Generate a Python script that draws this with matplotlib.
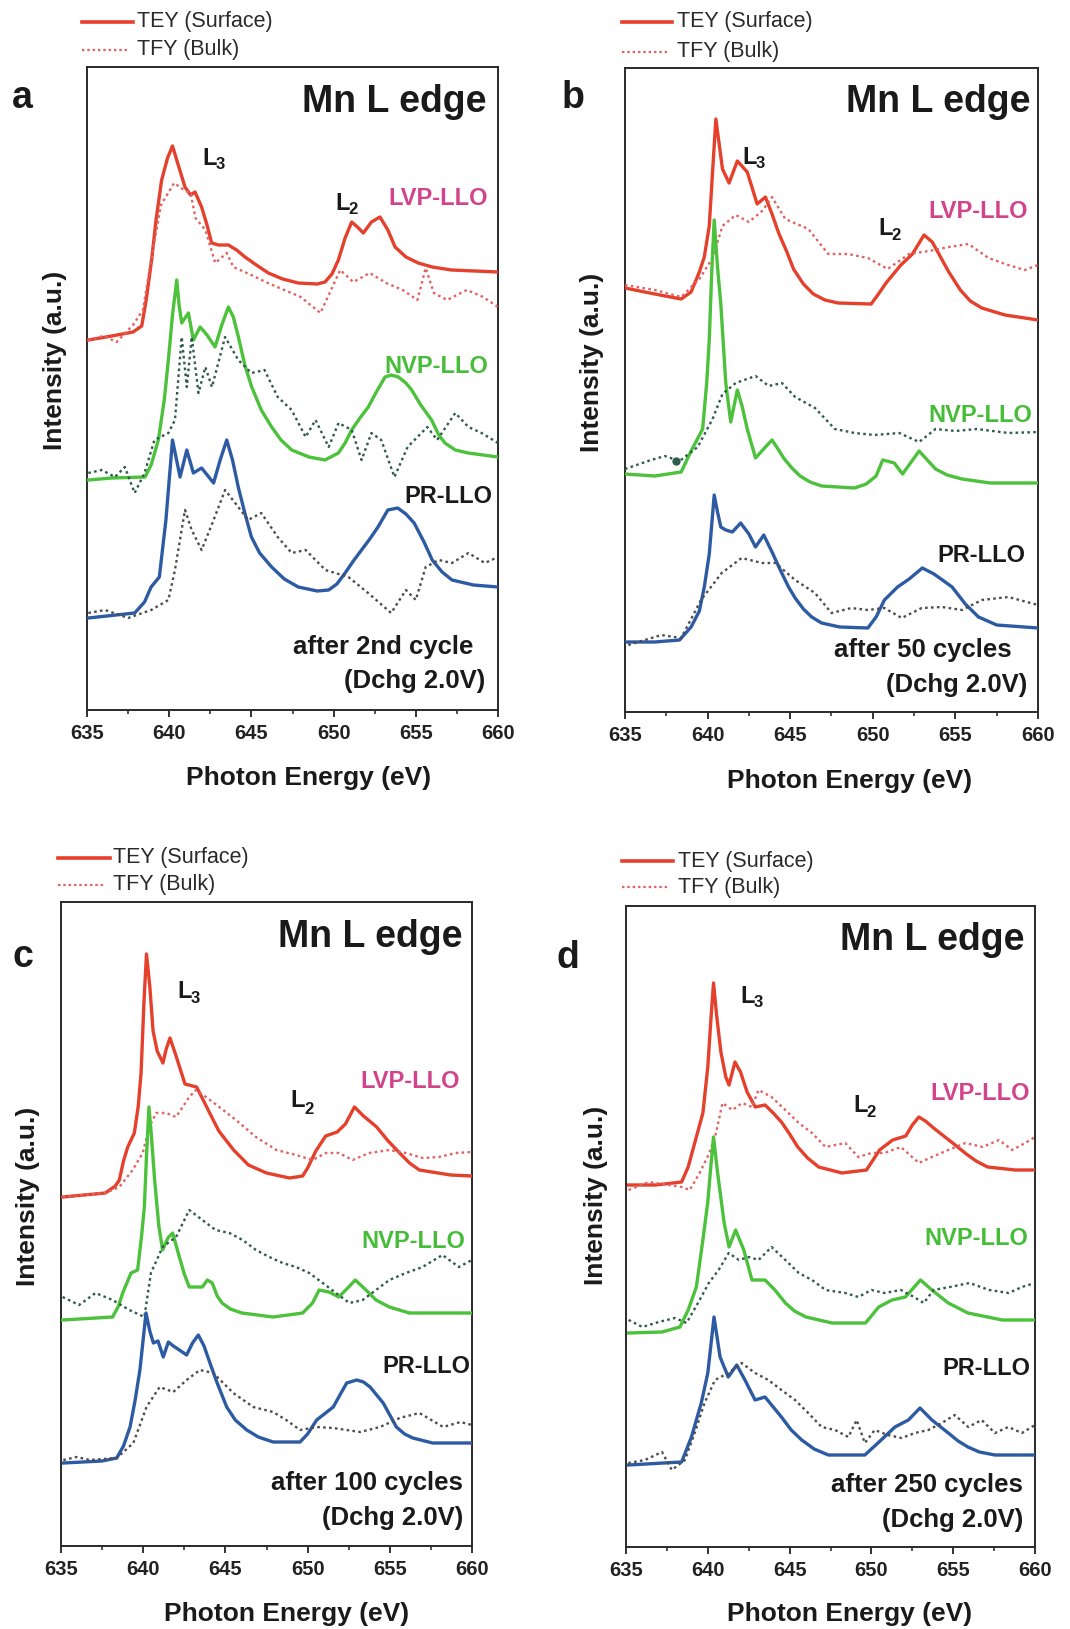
import numpy as np
import matplotlib
matplotlib.use("Agg")
import matplotlib.pyplot as plt
from matplotlib.lines import Line2D
from matplotlib.ticker import MultipleLocator

plt.rcParams['font.family'] = ['Liberation Sans', 'DejaVu Sans']

# ---------------- data: (photon energy eV, intensity a.u.) ----------------
# panel a : after 2nd cycle
a_lvp_tey = [(635.08,370),(636.5,374),(637.8,378),(638.33,384),(638.6,410),(638.93,450),(639.2,490),(639.54,530),(639.9,552),(640.2,564),(640.55,545),(640.96,523),(641.3,515),(641.57,518),(641.97,503),(642.3,485),(642.58,467),(643.0,465),(643.6,465),(644.1,460),(644.61,453),(645.3,445),(646.03,437),(646.9,431),(647.85,427),(649.0,426),(649.48,428),(649.9,436),(650.29,450),(650.7,472),(651.1,488),(651.45,483),(651.81,477),(652.3,488),(652.82,493),(653.3,480),(653.74,463),(654.4,453),(655.15,447),(656.0,443),(657.18,440),(660,438)]
a_lvp_tfy = [(635.08,370),(636.0,374),(636.8,368),(637.8,385),(638.4,400),(638.9,450),(639.5,505),(640.3,527),(640.9,520),(641.3,517),(641.6,492),(642.2,480),(642.8,447),(643.5,457),(643.9,443),(645.0,435),(646.0,427),(648.0,413),(649.2,397),(650.4,440),(651.2,428),(652.2,437),(653.2,427),(654.2,420),(655.1,410),(655.6,442),(656.1,417),(656.9,410),(658.1,420),(659.1,413),(660,403)]
a_nvp_tey = [(635.08,230),(636.5,232),(638.53,233),(638.9,245),(639.34,270),(639.7,310),(639.95,350),(640.2,395),(640.46,430),(640.6,405),(640.76,387),(641.17,397),(641.47,370),(641.88,383),(642.3,375),(642.79,363),(643.2,385),(643.6,403),(643.9,393),(644.21,373),(644.6,345),(645.02,323),(645.6,300),(646.23,283),(646.8,270),(647.45,260),(648.5,253),(649.48,250),(650.29,257),(650.7,267),(651.1,280),(651.6,292),(652.11,303),(652.6,318),(653.13,333),(653.5,335),(653.94,333),(654.4,327),(654.75,320),(655.3,305),(655.96,290),(656.4,275),(656.77,267),(657.4,260),(658.19,257),(660,253)]
a_nvp_tfy = [(635.08,237),(635.9,240),(636.7,233),(637.3,243),(637.9,217),(638.5,237),(639.1,270),(639.95,277),(640.35,290),(640.76,373),(641.07,323),(641.37,373),(641.78,317),(642.2,343),(642.6,323),(643.4,373),(644.2,350),(645.0,337),(645.8,340),(646.6,313),(647.45,300),(648.3,273),(648.9,290),(649.7,263),(650.3,287),(651.1,280),(651.7,250),(652.3,277),(652.9,270),(653.7,233),(654.5,263),(655.7,283),(656.3,270),(657.4,297),(658.2,283),(659.0,277),(660,267)]
a_pr_tey = [(635.08,92),(637.9,97),(638.5,108),(638.9,123),(639.4,133),(639.8,190),(640.2,270),(640.66,233),(641.07,260),(641.47,237),(641.97,242),(642.7,227),(643.1,250),(643.5,270),(643.85,250),(644.2,223),(644.6,197),(645.0,173),(645.5,157),(646.23,143),(647.0,131),(647.85,123),(649.0,119),(649.7,120),(650.2,126),(650.7,137),(651.2,149),(651.7,160),(652.2,171),(652.7,183),(653.3,200),(653.9,202),(654.4,196),(654.9,187),(655.5,168),(656.0,150),(656.6,138),(657.2,130),(658.5,125),(660,123)]
a_pr_tfy = [(635.08,97),(636.1,100),(637.5,92),(638.9,100),(639.95,110),(640.35,140),(640.96,200),(641.37,180),(641.97,160),(642.7,190),(643.4,220),(644.2,203),(644.8,190),(645.6,197),(646.6,173),(647.45,157),(648.3,160),(649.5,140),(650.9,133),(652.1,117),(653.5,97),(654.4,120),(655.0,110),(655.6,143),(656.4,150),(657.2,147),(658.2,157),(659.2,147),(660,153)]

# panel b : after 50 cycles
b_lvp_tey = [(635.0,424),(636.8,418),(638.4,413),(639.0,420),(639.5,440),(639.8,455),(640.1,486),(640.3,540),(640.5,593),(640.7,568),(640.9,543),(641.3,529),(641.8,551),(642.4,540),(643.0,508),(643.5,515),(643.9,498),(644.3,479),(644.8,460),(645.2,443),(645.8,428),(646.4,418),(647.1,412),(647.9,409),(649.9,408),(650.3,417),(650.8,429),(651.7,447),(652.4,458),(653.1,477),(653.6,470),(654.0,458),(654.6,440),(655.3,422),(655.9,411),(656.6,404),(658.0,397),(660,392)]
b_lvp_tfy = [(635.0,427),(636.8,422),(638.4,415),(639.5,433),(640.3,454),(640.9,486),(641.7,497),(642.5,490),(643.3,501),(643.9,515),(644.7,493),(646.1,483),(647.3,458),(648.5,458),(649.7,454),(650.9,443),(652.2,458),(653.4,461),(654.6,465),(655.8,468),(657.0,454),(658.2,447),(659.2,442),(660,447)]
b_nvp_tey = [(635.0,238),(636.8,236),(638.4,240),(639.0,261),(639.7,283),(639.95,330),(640.1,372),(640.25,440),(640.4,492),(640.6,445),(640.8,408),(641.1,329),(641.4,290),(641.8,322),(642.1,305),(642.4,283),(642.9,254),(643.5,265),(643.9,272),(644.3,262),(644.6,254),(645.1,244),(645.6,236),(646.2,230),(646.9,226),(648.9,224),(649.6,228),(650.2,236),(650.6,252),(651.3,249),(651.8,238),(652.5,254),(652.8,261),(653.3,252),(653.8,243),(654.5,237),(655.4,233),(657.1,229),(660,229)]
b_nvp_tfy = [(635.0,243),(636.4,251),(637.4,256),(638.3,251),(639.4,265),(640.3,293),(640.9,318),(641.7,329),(642.9,336),(643.7,326),(644.5,329),(645.3,315),(646.5,304),(647.7,283),(648.9,279),(650.1,277),(651.6,279),(652.8,270),(653.8,283),(655.0,281),(656.3,283),(658.2,279),(660,280)]
b_nvp_dot = [(638.1,251)]
b_pr_tey = [(635.0,70),(636.8,70),(638.3,72),(639.0,85),(639.5,101),(639.8,125),(640.1,158),(640.4,217),(640.6,200),(640.8,185),(641.1,182),(641.5,180),(642.0,189),(642.5,178),(642.9,165),(643.4,177),(643.9,160),(644.4,142),(644.9,125),(645.3,114),(645.8,103),(646.3,95),(646.9,89),(648.0,85),(649.7,84),(650.2,95),(650.7,112),(651.5,125),(652.2,133),(653.0,144),(653.7,138),(654.3,131),(654.8,125),(655.6,108),(656.4,95),(657.5,87),(660,84)]
b_pr_tfy = [(635.2,67),(637.2,77),(638.4,74),(639.6,112),(640.85,139),(642.06,154),(643.3,149),(644.1,149),(645.3,132),(646.5,119),(647.5,99),(648.7,104),(649.7,102),(650.7,104),(651.75,94),(652.96,104),(654.2,105),(655.4,102),(656.6,112),(658.2,115),(660,107)]

# panel c : after 100 cycles
c_lvp_tey = [(635.1,349),(637.7,353),(638.3,360),(638.55,366),(638.8,385),(639.06,399),(639.46,413),(639.7,440),(639.87,473),(640.05,545),(640.2,592),(640.4,560),(640.6,515),(640.85,495),(641.2,483),(641.4,497),(641.63,508),(642.0,490),(642.54,462),(643.25,459),(643.86,439),(644.6,415),(645.5,396),(646.4,381),(647.5,373),(648.9,368),(649.7,370),(650.0,378),(650.5,395),(651.1,410),(651.8,414),(652.3,422),(652.85,439),(653.4,430),(654.2,419),(654.9,405),(655.6,393),(656.2,383),(656.8,376),(658.7,371),(660,370)]
c_lvp_tfy = [(635.1,349),(637.7,353),(638.55,359),(639.36,376),(639.97,393),(640.37,419),(640.78,433),(641.39,433),(642.0,429),(642.8,449),(643.2,456),(643.82,449),(644.63,439),(645.64,426),(646.86,409),(648.1,396),(649.3,391),(650.3,386),(651.1,393),(651.9,393),(652.74,386),(653.75,393),(654.97,396),(655.98,393),(656.99,388),(658.0,389),(659.0,393),(660,394)]
c_nvp_tey = [(635.1,226),(638.14,229),(638.5,240),(638.75,253),(639.26,273),(639.66,276),(639.9,310),(640.07,339),(640.2,390),(640.35,439),(640.5,410),(640.7,365),(640.95,320),(641.18,296),(641.5,308),(641.79,313),(642.2,289),(642.5,272),(642.8,259),(643.6,259),(643.9,266),(644.2,263),(644.5,250),(644.8,243),(645.3,237),(646.0,233),(647.9,229),(649.7,233),(650.3,243),(650.7,256),(651.3,254),(651.9,249),(652.5,259),(652.9,266),(653.55,256),(654.16,246),(654.97,239),(656.19,233),(660,233)]
c_nvp_tfy = [(635.1,249),(636.1,241),(637.1,253),(638.14,246),(639.16,236),(640.07,229),(640.47,273),(641.18,299),(642.0,309),(642.8,336),(643.6,326),(644.4,316),(645.24,313),(646.05,306),(646.86,296),(647.67,289),(648.48,283),(649.29,279),(650.1,273),(650.92,263),(651.73,253),(652.54,243),(653.35,246),(654.16,256),(654.97,266),(655.98,273),(656.99,279),(658.2,291),(659.2,279),(660,286)]
c_pr_tey = [(635.14,83),(637.5,85),(638.39,88),(638.8,100),(639.2,119),(639.5,145),(639.8,176),(640.17,233),(640.4,215),(640.62,203),(640.9,205),(641.22,189),(641.53,204),(641.83,200),(642.2,196),(642.64,191),(643.0,203),(643.35,211),(643.7,200),(644.06,183),(644.5,163),(645.08,139),(645.6,126),(646.3,116),(647.0,109),(647.9,104),(649.54,104),(650.0,112),(650.55,126),(651.56,139),(652.0,152),(652.38,163),(652.99,166),(653.4,164),(653.8,159),(654.6,143),(655.0,131),(655.4,119),(655.9,112),(656.4,108),(657.6,103),(660,103)]
c_pr_tfy = [(635.14,86),(635.95,89),(636.76,86),(638.39,88),(639.4,103),(640.2,139),(641.0,159),(641.83,154),(642.64,166),(643.45,176),(644.26,173),(645.48,153),(646.7,139),(647.9,134),(648.7,126),(649.54,116),(650.55,119),(651.56,118),(653.2,114),(654.4,119),(655.6,128),(656.8,133),(658.25,119),(659.3,124),(660,121)]

# panel d : after 250 cycles
d_lvp_tey = [(635.16,362),(636.8,362),(638.4,365),(638.8,380),(639.2,404),(639.7,434),(640.0,480),(640.2,530),(640.35,564),(640.55,530),(640.8,495),(641.1,470),(641.3,462),(641.66,485),(642.0,475),(642.4,455),(642.9,440),(643.5,442),(644.0,434),(644.5,425),(645.0,413),(645.5,400),(646.1,389),(646.78,380),(648.2,374),(649.7,377),(650.1,387),(650.5,397),(651.3,407),(652.1,411),(652.5,422),(652.9,430),(653.3,426),(653.8,419),(654.5,410),(655.2,401),(655.8,393),(656.4,386),(657.1,380),(658.8,377),(660,377)]
d_lvp_tfy = [(635.16,357),(636.4,365),(637.6,362),(638.4,360),(638.9,357),(639.5,374),(640.1,394),(640.5,414),(640.9,444),(641.5,437),(642.1,444),(642.7,440),(643.1,457),(643.9,450),(644.74,437),(645.56,424),(646.37,414),(647.2,400),(648.4,404),(649.2,390),(650.0,394),(650.8,394),(651.8,400),(652.9,384),(653.7,390),(654.7,397),(655.75,404),(656.8,400),(657.8,407),(658.6,397),(659.4,404),(660,410)]
d_nvp_tey = [(635.16,214),(637.2,215),(638.3,220),(638.8,237),(639.3,260),(639.7,307),(640.0,345),(640.15,374),(640.35,410),(640.6,374),(641.0,324),(641.3,300),(641.7,317),(642.2,297),(642.7,267),(643.5,267),(644.1,257),(644.74,244),(645.3,236),(646.0,230),(647.6,224),(649.64,224),(650.45,240),(651.26,247),(652.08,250),(653.0,267),(653.7,257),(654.7,244),(655.9,234),(658.0,227),(660,227)]
d_nvp_tfy = [(635.16,227),(636.0,220),(637.0,225),(638.0,229),(638.7,224),(639.4,244),(640.06,264),(640.66,277),(641.28,294),(641.9,287),(642.5,290),(643.1,287),(643.9,300),(644.74,287),(645.56,274),(646.37,267),(647.2,257),(648.4,254),(649.2,250),(650.0,257),(650.8,254),(651.8,257),(652.6,250),(653.2,244),(653.8,257),(654.8,260),(656.0,264),(657.2,257),(658.4,254),(659.2,260),(660,264)]
d_pr_tey = [(635.14,82),(638.4,85),(639.0,110),(639.6,144),(640.0,174),(640.38,230),(640.75,190),(641.25,170),(641.77,182),(642.27,167),(642.89,147),(643.5,150),(644.5,130),(645.1,117),(645.74,107),(646.5,98),(647.37,92),(649.6,92),(650.4,104),(651.44,120),(652.26,127),(652.97,139),(653.7,127),(654.7,114),(655.3,106),(655.9,100),(656.6,95),(657.55,92),(660,92)]
d_pr_tfy = [(635.14,84),(636.16,87),(637.2,95),(637.8,77),(638.6,87),(639.2,114),(639.8,144),(640.44,167),(641.25,174),(642.07,184),(642.89,174),(643.7,167),(644.5,157),(645.33,147),(646.14,134),(646.96,120),(647.78,117),(648.59,110),(649.1,127),(649.6,104),(650.2,117),(651.0,112),(651.85,109),(652.66,114),(653.48,117),(654.3,124),(655.1,132),(655.92,120),(656.74,127),(657.55,114),(658.37,120),(659.2,114),(660,122)]

samples = ["LVP-LLO", "NVP-LLO", "PR-LLO"]
cycle_texts = ["after 2nd cycle", "after 50 cycles", "after 100 cycles", "after 250 cycles"]
panel_letters = ["a", "b", "c", "d"]
xticks = [635, 640, 645, 650, 655, 660]

# ---------------- styling ----------------
W, H = 1070, 1629
RED = '#e5402c'
RED_DOT = '#e06363'
GREEN = '#4cc13b'
GREEN_DOT = '#2e5b4d'
BLUE = '#2d5ba3'
GRAY_DOT = '#4d4d4d'
LBL_COLORS = ['#d2438c', '#46bd38', '#1a1a1a']
TXT = '#1a1a1a'

fig = plt.figure(figsize=(W / 100, H / 100), dpi=100)
fig.patch.set_facecolor('white')


def fp(x, y):
    return x / W, 1 - y / H


def arr(pts):
    a = np.array(pts, dtype=float)
    return a[:, 0], a[:, 1]


panels = [
    dict(box=(87, 67, 498, 710),
         curves=[a_lvp_tey, a_lvp_tfy, a_nvp_tey, a_nvp_tfy, a_pr_tey, a_pr_tfy], dot=None,
         leg=(82, 133, 127, 137, 22, 50),
         letter=(12, 108), mn=(487, 112),
         L3=(202, 165, 216, 169), L2=(335, 210, 348, 214),
         lbl=[(488, 205), (488, 373), (492, 503)],
         cyc=(473, 654), dchg=(485, 688),
         ylab=(55, 360), xlab=(309, 778)),
    dict(box=(625, 68, 1038, 712),
         curves=[b_lvp_tey, b_lvp_tfy, b_nvp_tey, b_nvp_tfy, b_pr_tey, b_pr_tfy], dot=b_nvp_dot,
         leg=(622, 672, 667, 677, 22, 52),
         letter=(562, 108), mn=(1031, 112),
         L3=(742, 164, 756, 168), L2=(878, 235, 891, 240),
         lbl=[(1028, 218), (1032, 422), (1025, 562)],
         cyc=(1012, 657), dchg=(1027, 692),
         ylab=(592, 362), xlab=(850, 781)),
    dict(box=(61, 902, 472, 1546),
         curves=[c_lvp_tey, c_lvp_tfy, c_nvp_tey, c_nvp_tfy, c_pr_tey, c_pr_tfy], dot=None,
         leg=(58, 110, 104, 113, 858, 885),
         letter=(13, 967), mn=(463, 947),
         L3=(177, 998, 191, 1003), L2=(290, 1107, 304, 1114),
         lbl=[(460, 1088), (465, 1248), (470, 1373)],
         cyc=(463, 1490), dchg=(463, 1525),
         ylab=(28, 1196), xlab=(287, 1614)),
    dict(box=(626, 906, 1035, 1547),
         curves=[d_lvp_tey, d_lvp_tfy, d_nvp_tey, d_nvp_tfy, d_pr_tey, d_pr_tfy], dot=None,
         leg=(622, 673, 668, 678, 861, 887),
         letter=(557, 968), mn=(1025, 950),
         L3=(740, 1003, 754, 1007), L2=(853, 1112, 866, 1117),
         lbl=[(1030, 1100), (1028, 1245), (1030, 1375)],
         cyc=(1023, 1492), dchg=(1023, 1527),
         ylab=(596, 1195), xlab=(850, 1614)),
]

styles = [
    dict(color=RED, lw=2.4, ls='-', zorder=3),
    dict(color=RED_DOT, lw=1.7, ls=(0, (1.1, 1.4)), zorder=4),
    dict(color=GREEN, lw=2.4, ls='-', zorder=5),
    dict(color=GREEN_DOT, lw=1.7, ls=(0, (1.1, 1.4)), zorder=6),
    dict(color=BLUE, lw=2.4, ls='-', zorder=7),
    dict(color=GRAY_DOT, lw=1.7, ls=(0, (1.1, 1.4)), zorder=8),
]

for i, p in enumerate(panels):
    l, t, r, b = p['box']
    ax = fig.add_axes([l / W, 1 - b / H, (r - l) / W, (b - t) / H])
    for pts, st in zip(p['curves'], styles):
        x, y = arr(pts)
        ax.plot(x, y, solid_joinstyle='round', dash_joinstyle='round', **st)
    if p['dot']:
        x, y = arr(p['dot'])
        ax.plot(x, y, 'o', color=GREEN_DOT, ms=5, zorder=9)
    ax.set_xlim(635, 660)
    ax.set_ylim(0, b - t)
    ax.set_yticks([])
    ax.set_xticks(xticks)
    ax.xaxis.set_minor_locator(MultipleLocator(2.5))
    ax.tick_params(axis='x', which='major', direction='out', length=5, width=1.3,
                   labelsize=14.5, pad=5, colors='#222222')
    ax.tick_params(axis='x', which='minor', direction='out', length=3, width=1.1, colors='#222222')
    for lab in ax.get_xticklabels():
        lab.set_fontweight('bold')
    for s in ax.spines.values():
        s.set_linewidth(1.4)
        s.set_color('#2a2a2a')

    # legend (drawn above each axes)
    x0, x1s, x1d, xt, y1, y2 = p['leg']
    fig.add_artist(Line2D([x0 / W, x1s / W], [1 - y1 / H] * 2, transform=fig.transFigure,
                          color=RED, lw=2.6))
    fig.add_artist(Line2D([x0 / W, x1d / W], [1 - y2 / H] * 2, transform=fig.transFigure,
                          color=RED_DOT, lw=1.6, ls=(0, (1.1, 1.3))))
    fig.text(*fp(xt, y1), "TEY (Surface)", fontsize=15.5, color='#2a2a2a', va='center', ha='left')
    fig.text(*fp(xt, y2), "TFY (Bulk)", fontsize=15.5, color='#2a2a2a', va='center', ha='left')

    fig.text(*fp(*p['letter']), panel_letters[i], fontsize=27, fontweight='bold', color=TXT,
             ha='left', va='baseline')
    fig.text(*fp(*p['mn']), "Mn L edge", fontsize=27, fontweight='bold', color=TXT,
             ha='right', va='baseline')
    for key, sub in (('L3', '3'), ('L2', '2')):
        lx, ly, sx, sy = p[key]
        fig.text(*fp(lx, ly), "L", fontsize=17, fontweight='bold', color=TXT, ha='left', va='baseline')
        fig.text(*fp(sx, sy), sub, fontsize=12, fontweight='bold', color=TXT, ha='left', va='baseline')
    for (lx, ly), name, col in zip(p['lbl'], samples, LBL_COLORS):
        fig.text(*fp(lx, ly), name, fontsize=17, fontweight='bold', color=col, ha='right', va='baseline')
    fig.text(*fp(*p['cyc']), cycle_texts[i], fontsize=18.5, fontweight='bold', color=TXT,
             ha='right', va='baseline')
    fig.text(*fp(*p['dchg']), "(Dchg 2.0V)", fontsize=18.5, fontweight='bold', color=TXT,
             ha='right', va='baseline')
    fig.text(*fp(*p['ylab']), "Intensity (a.u.)", fontsize=19, fontweight='bold', color=TXT,
             rotation=90, ha='center', va='center')
    fig.text(*fp(*p['xlab']), "Photon Energy (eV)", fontsize=19, fontweight='bold', color=TXT,
             ha='center', va='center')

fig.savefig('out.png', dpi=100, facecolor='white')
